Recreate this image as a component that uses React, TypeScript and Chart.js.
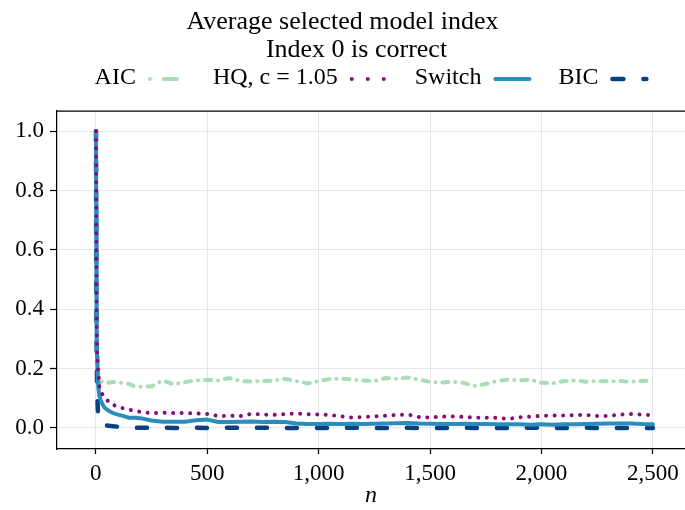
import React, { useEffect, useRef } from 'react';
import { Chart, registerables } from 'chart.js';

Chart.register(...registerables);

const TITLE_LINES = ['Average selected model index', 'Index 0 is correct'];
const SERIES_LABELS = ['AIC', 'HQ, c = 1.05', 'Switch', 'BIC'];
const X_TICKS = [0, 500, 1000, 1500, 2000, 2500];
const Y_TICKS = [0, 0.2, 0.4, 0.6, 0.8, 1.0];

const nValues = [
  1, 2, 3, 4, 5, 6, 8, 10, 13, 16,
  20, 25, 30, 40, 50, 60, 75, 100, 125, 150,
  175, 200, 250, 300, 350, 400, 450, 500, 550, 600,
  650, 700, 750, 800, 850, 900, 950, 1000, 1050, 1100,
  1150, 1200, 1250, 1300, 1350, 1400, 1450, 1500, 1550, 1600,
  1650, 1700, 1750, 1800, 1850, 1900, 1950, 2000, 2050, 2100,
  2150, 2200, 2250, 2300, 2350, 2400, 2450, 2500,
];

const aicValues = [
  1.0, 0.66, 0.45, 0.33, 0.26, 0.22, 0.19, 0.172, 0.163, 0.158,
  0.16, 0.157, 0.155, 0.153, 0.156, 0.152, 0.155, 0.153, 0.151, 0.148,
  0.14, 0.139, 0.14, 0.16, 0.147, 0.155, 0.16, 0.162, 0.16, 0.168,
  0.158, 0.156, 0.158, 0.16, 0.165, 0.158, 0.15, 0.158, 0.165, 0.166,
  0.163, 0.16, 0.158, 0.168, 0.166, 0.17, 0.163, 0.155, 0.153, 0.156,
  0.152, 0.142, 0.148, 0.158, 0.163, 0.16, 0.162, 0.152, 0.15, 0.158,
  0.16, 0.156, 0.158, 0.157, 0.158, 0.156, 0.158, 0.16,
];

const hqValues = [
  1.0, 0.72, 0.5, 0.36, 0.29, 0.25, 0.22, 0.2, 0.18, 0.14,
  0.125, 0.118, 0.113, 0.108, 0.095, 0.086, 0.079, 0.07, 0.066, 0.061,
  0.058, 0.054, 0.05, 0.051, 0.05, 0.05, 0.049, 0.047, 0.04, 0.041,
  0.04, 0.048, 0.045, 0.044, 0.047, 0.049, 0.046, 0.045, 0.044, 0.039,
  0.035, 0.037, 0.039, 0.041, 0.044, 0.045, 0.037, 0.035, 0.038, 0.039,
  0.037, 0.035, 0.034, 0.034, 0.03, 0.036, 0.038, 0.041, 0.042, 0.042,
  0.043, 0.044, 0.04, 0.04, 0.045, 0.047, 0.045, 0.043,
];

const switchValues = [
  1.0, 0.75, 0.52, 0.37, 0.29, 0.24, 0.19, 0.15, 0.125, 0.11,
  0.098, 0.088, 0.08, 0.068, 0.062, 0.057, 0.051, 0.045, 0.04, 0.034,
  0.034, 0.033, 0.025, 0.021, 0.021, 0.021, 0.026, 0.028, 0.02, 0.02,
  0.021, 0.022, 0.02, 0.021, 0.02, 0.015, 0.013, 0.013, 0.014, 0.013,
  0.014, 0.013, 0.014, 0.015, 0.016, 0.017, 0.015, 0.014, 0.013, 0.013,
  0.014, 0.013, 0.013, 0.012, 0.012, 0.012, 0.011, 0.012, 0.011, 0.012,
  0.012, 0.013, 0.014, 0.015, 0.015, 0.015, 0.013, 0.012,
];

const bicValues = [
  1.0, 0.62, 0.4, 0.27, 0.2, 0.13, 0.085, 0.05, 0.022, 0.018,
  0.016, 0.014, 0.012, 0.01, 0.008, 0.007, 0.006, 0.004, 0.003, 0.001,
  0.001, 0.001, 0.0, 0.001, 0.0, 0.0, 0.001, 0.0, 0.0, 0.001,
  0.0, 0.0, 0.001, 0.0, 0.0, 0.0, 0.001, 0.0, 0.0, 0.0,
  0.001, 0.0, 0.0, 0.0, 0.0, 0.001, 0.0, 0.0, 0.0, 0.0,
  0.001, 0.0, 0.0, 0.0, 0.0, 0.0, 0.001, 0.0, 0.0, 0.0,
  0.0, 0.001, 0.0, 0.0, 0.0, 0.0, 0.0, 0.0,
];

const FONT = '"Liberation Serif", "DejaVu Serif", serif';
const COLORS = ['#a8ddb5', '#810f7c', '#2b8cbe', '#084081'];
const WIDTHS = [4, 4, 4, 4.5];
const DASHES = [[6, 7, 0.01, 7], [0.01, 8.5], [], [10, 20]];
const LEGEND_DASHES = [[0.01, 14, 13, 100], [0.01, 16], [], [11, 20]];
const ORDERS = [3, 0, 1, 2];

const toPoints = (vals: number[]) => nValues.map((n, i) => ({ x: n, y: vals[i] }));

const overlayPlugin = {
  id: 'overlay',
  afterDraw(chart: any) {
    const ctx = chart.ctx as CanvasRenderingContext2D;
    const { left, right, top } = chart.chartArea;
    ctx.save();
    // top spine
    ctx.strokeStyle = '#000';
    ctx.lineWidth = 1.25;
    ctx.beginPath();
    ctx.moveTo(left, top);
    ctx.lineTo(right, top);
    ctx.stroke();

    // title
    ctx.fillStyle = '#000';
    ctx.textAlign = 'center';
    ctx.textBaseline = 'middle';
    ctx.font = `26px ${FONT}`;
    const w = chart.width;
    ctx.fillText(TITLE_LINES[0], w / 2, 22);
    ctx.fillText(TITLE_LINES[1], w / 2 + 14, 50);

    // legend
    ctx.font = `24px ${FONT}`;
    const gapText = 12;
    const sampleW = 37;
    const gapItem = 28;
    const ds = chart.data.datasets;
    const widths = ds.map((d: any) => ctx.measureText(d.label).width);
    let total = 0;
    widths.forEach((tw: number, i: number) => {
      total += tw + gapText + sampleW + (i < widths.length - 1 ? gapItem : 0);
    });
    let x = (left + right) / 2 - total / 2;
    const ly = 78;
    ds.forEach((d: any, i: number) => {
      ctx.textAlign = 'left';
      ctx.fillStyle = '#000';
      ctx.fillText(d.label, x, ly);
      x += widths[i] + gapText;
      ctx.save();
      ctx.strokeStyle = d.borderColor;
      ctx.lineWidth = d.borderWidth;
      ctx.lineCap = 'round';
      ctx.setLineDash(LEGEND_DASHES[i]);
      ctx.beginPath();
      ctx.moveTo(x + 2, ly + 1);
      ctx.lineTo(x + sampleW - 1, ly + 1);
      ctx.stroke();
      ctx.restore();
      x += sampleW + gapItem;
    });
    ctx.restore();
  },
};

export default function App() {
  const ref = useRef<HTMLCanvasElement | null>(null);
  useEffect(() => {
    if (!ref.current) return;
    Chart.defaults.font.family = FONT;
    Chart.defaults.color = '#000';
    const series = [aicValues, hqValues, switchValues, bicValues];
    const chart = new Chart(ref.current, {
      type: 'line',
      data: {
        datasets: series.map((vals, i) => ({
          label: SERIES_LABELS[i],
          data: toPoints(vals),
          borderColor: COLORS[i],
          backgroundColor: COLORS[i],
          borderWidth: WIDTHS[i],
          borderDash: DASHES[i],
          borderCapStyle: 'round',
          borderJoinStyle: 'round',
          pointRadius: 0,
          tension: 0,
          fill: false,
          order: ORDERS[i],
        })),
      },
      options: {
        animation: false,
        responsive: false,
        devicePixelRatio: 1,
        layout: { padding: { top: 111, left: 0, right: 0, bottom: 0 } },
        plugins: {
          legend: { display: false },
          title: { display: false },
          tooltip: { enabled: false },
        },
        scales: {
          x: {
            type: 'linear',
            min: -174,
            max: 2644,
            afterFit: (s: any) => { s.height = 61; },
            afterBuildTicks: (s: any) => { s.ticks = X_TICKS.map((v) => ({ value: v })); },
            ticks: {
              font: { size: 23, family: FONT },
              padding: 6,
              maxRotation: 0,
              autoSkip: false,
              callback: (v: any) => Number(v).toLocaleString('en-US'),
            },
            grid: { color: '#e6e6e6', lineWidth: 1, tickColor: '#000', tickLength: 5, tickWidth: 1.25 },
            border: { display: true, color: '#000', width: 1.25 },
            title: {
              display: true,
              text: 'n',
              font: { size: 24, style: 'italic', family: FONT },
              padding: { top: 0, bottom: 0 },
            },
          },
          y: {
            type: 'linear',
            min: -0.071,
            max: 1.068,
            afterFit: (s: any) => { s.width = 57; },
            afterBuildTicks: (s: any) => { s.ticks = Y_TICKS.map((v) => ({ value: v })); },
            ticks: {
              font: { size: 23, family: FONT },
              padding: 6,
              autoSkip: false,
              callback: (v: any) => Number(v).toFixed(1),
            },
            grid: { color: '#e6e6e6', lineWidth: 1, tickColor: '#000', tickLength: 7, tickWidth: 1.25 },
            border: { display: true, color: '#000', width: 1.25 },
          },
        },
      },
      plugins: [overlayPlugin],
    } as any);
    return () => chart.destroy();
  }, []);
  return (
    <div style={{ position: 'fixed', left: 0, top: 0, width: 685, height: 510, background: '#fff' }}>
      <canvas ref={ref} width={685} height={510} style={{ display: 'block' }} />
    </div>
  );
}
